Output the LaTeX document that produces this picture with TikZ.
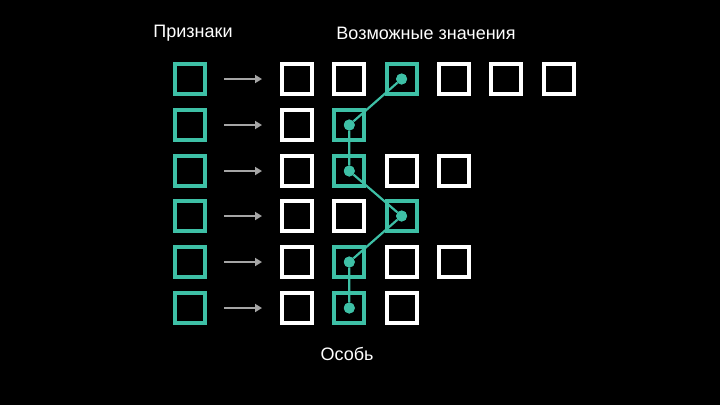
\documentclass[tikz,border=0pt]{standalone}
\usepackage{fontspec}
\setmainfont{Liberation Sans}
\usetikzlibrary{arrows.meta}
\definecolor{teal1}{RGB}{62,192,166}
\definecolor{arrgray}{RGB}{165,165,165}
\begin{document}
\begin{tikzpicture}[x=1pt,y=-1pt,
  wsq/.style={draw=white,line width=4pt,minimum size=30pt,inner sep=0pt},
  tsq/.style={draw=teal1,line width=4pt,minimum size=30pt,inner sep=0pt},
  dotn/.style={circle,fill=teal1,minimum size=11pt,inner sep=0pt},
  link/.style={teal1,line width=2.2pt},
  garr/.style={arrgray,line width=2.5pt,-{Triangle[length=7pt,width=8pt]}},
  lbl/.style={text=white,font=\fontsize{18pt}{21pt}\selectfont,inner sep=0pt}]
\fill[black] (0,0) rectangle (720,405);
\useasboundingbox (0,0) rectangle (720,405);
\node[lbl] (t1) at (193,33) {Признаки};
\node[lbl] (t2) at (426,33) {Возможные значения};
\node[lbl] (t3) at (347,354) {Особь};
% left feature column and arrows
\foreach \r/\y in {1/79,2/125,3/171,4/216,5/262,6/308}{
  \node[tsq] (f\r) at (189.5,\y) {};
  \coordinate (as\r) at (224,\y);
  \coordinate (ae\r) at (262,\y);
  \draw[garr] (as\r) -- (ae\r);
}
% value squares
\foreach \r/\y/\n in {1/79/6,2/125/2,3/171/4,4/216/3,5/262/4,6/308/3}{
  \foreach \c in {1,...,\n}{
    \node[wsq] (v\r-\c) at ({297+52.3*(\c-1)},\y) {};
  }
}
% selected values
\foreach \r/\c in {1/3,2/2,3/2,4/3,5/2,6/2}{
  \node[tsq] at (v\r-\c) {};
  \node[dotn] (d\r) at (v\r-\c) {};
}
\draw[link] (d1) -- (d2) -- (d3) -- (d4) -- (d5) -- (d6);
\foreach \r in {1,...,6}{ \node[dotn] at (d\r) {}; }
\end{tikzpicture}
\end{document}
